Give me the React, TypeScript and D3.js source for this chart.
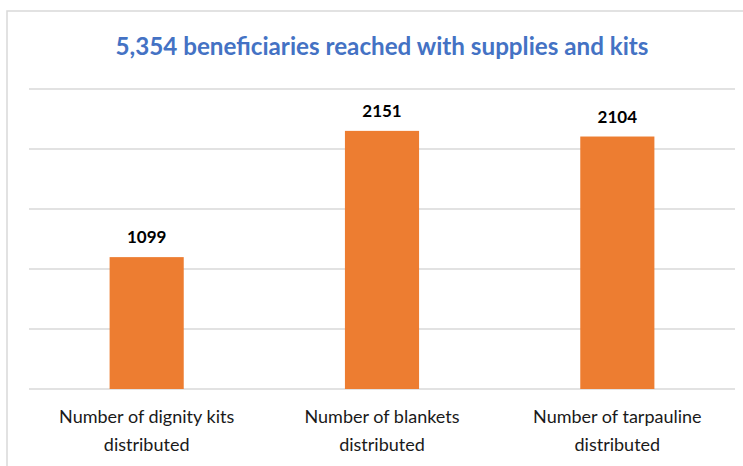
import * as d3 from "d3";

const TITLE = "5,354 beneficiaries reached with supplies and kits";
const CATEGORIES = [
	["Number of dignity kits", "distributed"],
	["Number of blankets", "distributed"],
	["Number of tarpauline", "distributed"],
];
const VALUES = [1099, 2151, 2104];
const Y_TICKS = [0, 500, 1000, 1500, 2000, 2500];

const W = 743;
const H = 466;
const M = { left: 29, right: 8, top: 89, baseline: 389 };

export default function App() {
	const x = d3
		.scaleBand<number>()
		.domain(d3.range(VALUES.length))
		.range([M.left, W - M.right])
		.paddingInner(0.685)
		.paddingOuter(0.3425);
	const y = d3.scaleLinear().domain([0, 2500]).range([M.baseline, M.top]);
	const font = "Lato, 'Open Sans', sans-serif";

	return (
		<svg
			width={W}
			height={H}
			style={{ position: "absolute", left: 0, top: 0, background: "#fff" }}
		>
			<rect x={7} y={11} width={W + 10} height={H + 10} fill="#fff" stroke="#d9d9d9" strokeWidth={1.5} />
			<text
				x={382}
				y={55}
				textAnchor="middle"
				fontFamily={font}
				fontWeight={700}
				fontSize={24}
				textLength={533}
				lengthAdjust="spacingAndGlyphs"
				fill="#4472c4"
			>
				{TITLE}
			</text>
			{Y_TICKS.map((t) => (
				<line key={t} x1={M.left} x2={W - M.right} y1={y(t)} y2={y(t)} stroke="#d9d9d9" strokeWidth={1.3} />
			))}
			{VALUES.map((v, i) => (
				<g key={i}>
					<rect x={x(i)} y={y(v)} width={x.bandwidth()} height={y(0) - y(v)} fill="#ed7d31" />
					<text
						x={(x(i) ?? 0) + x.bandwidth() / 2}
						y={y(v) - 14}
						textAnchor="middle"
						fontFamily={font}
						fontWeight={700}
						fontSize={17}
						fill="#000"
					>
						{v}
					</text>
					{CATEGORIES[i].map((line, j) => (
						<text
							key={j}
							x={(x(i) ?? 0) + x.bandwidth() / 2}
							y={423 + j * 28}
							textAnchor="middle"
							fontFamily={font}
							fontSize={18}
							fill="#1a1a1a"
						>
							{line}
						</text>
					))}
				</g>
			))}
		</svg>
	);
}
